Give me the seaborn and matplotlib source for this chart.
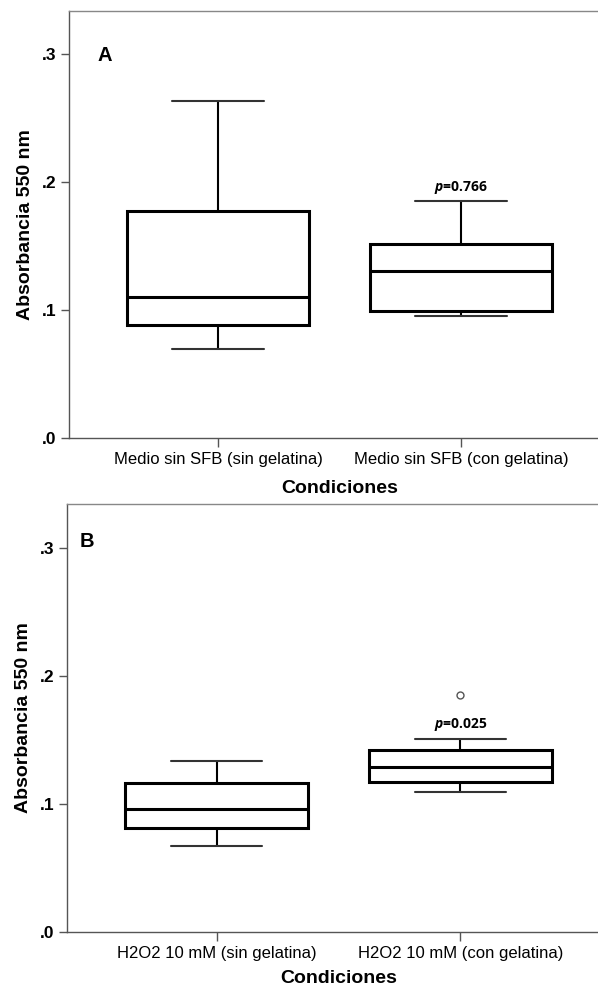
import matplotlib
matplotlib.use("Agg")
import matplotlib.pyplot as plt
import pandas as pd
import seaborn as sns
from matplotlib.cbook import boxplot_stats

# Absorbance readings (550 nm) per condition
cond_a = ["Medio sin SFB (sin gelatina)", "Medio sin SFB (con gelatina)"]
abs_a_sin = [0.0698, 0.0885, 0.1107, 0.1780, 0.2640]
abs_a_con = [0.0955, 0.0992, 0.1307, 0.1520, 0.1854]

cond_b = ["H2O2 10 mM (sin gelatina)", "H2O2 10 mM (con gelatina)"]
abs_b_sin = [0.0670, 0.0808, 0.0956, 0.1159, 0.1334]
abs_b_con = [0.1094, 0.1130, 0.1167, 0.1230, 0.1284, 0.1350, 0.1420, 0.1508, 0.1852]

p_a = "0.766"
p_b = "0.025"
panel_a = "A"
panel_b = "B"

y_ticks = [0.0, 0.1, 0.2, 0.3]
y_tick_labels = [".0", ".1", ".2", ".3"]
x_title = "Condiciones"
y_title = "Absorbancia 550 nm"

sns.set_style("ticks")
plt.rcParams["font.family"] = ["Liberation Sans", "DejaVu Sans"]
plt.rcParams["text.color"] = "black"
plt.rcParams["axes.labelcolor"] = "black"
plt.rcParams["xtick.labelcolor"] = "black"
plt.rcParams["ytick.labelcolor"] = "black"
plt.rcParams["mathtext.fontset"] = "custom"
plt.rcParams["mathtext.bfit"] = "Open Sans:italic:bold"
plt.rcParams["mathtext.bf"] = "Open Sans:bold"


def make_frame(conds, groups):
    rows = []
    for c, vals in zip(conds, groups):
        rows += [{"cond": c, "abs": v} for v in vals]
    return pd.DataFrame(rows)


def draw_panel(ax, conds, groups, pval, letter, letter_xy, xpad):
    df = make_frame(conds, groups)
    sns.boxplot(
        data=df, x="cond", y="abs", order=conds, ax=ax,
        color="white", linecolor="black", linewidth=2.2, width=0.75,
        whiskerprops={"linewidth": 1.5},
        capprops={"linewidth": 1.5, "color": "#333333"},
        flierprops={"marker": "o", "markersize": 5, "markerfacecolor": "white",
                    "markeredgecolor": "#555555", "markeredgewidth": 1.0},
    )
    ax.set_xlim(-0.613, 1.613)
    ax.set_ylim(0, 0.334)
    ax.set_yticks(y_ticks)
    ax.set_yticklabels(y_tick_labels, fontsize=12.5, fontweight="bold")
    ax.set_xticks(range(len(conds)))
    ax.set_xticklabels(conds, fontsize=12)
    ax.tick_params(axis="y", length=6, width=1.0, color="#555555", pad=3)
    ax.tick_params(axis="x", length=6.5, width=1.0, color="#555555", pad=3.5)
    ax.set_xlabel(x_title, fontsize=14, fontweight="bold", labelpad=xpad)
    ax.set_ylabel(y_title, fontsize=14, fontweight="bold", labelpad=6)
    for side in ["left", "bottom"]:
        ax.spines[side].set_color("#555555")
        ax.spines[side].set_linewidth(1.0)
    ax.spines["top"].set_color("#888888")
    ax.spines["top"].set_linewidth(1.0)
    ax.spines["right"].set_color("#888888")

    # significance label above the upper whisker of the second group
    top = boxplot_stats(groups[1])[0]["whishi"]
    ax.annotate(r"$\mathbfit{p}$=" + pval, xy=(1, top), xytext=(0, 10),
                textcoords="offset points", ha="center", va="center",
                fontsize=10, fontweight="bold", family="Open Sans")
    ax.text(letter_xy[0], letter_xy[1], letter, transform=ax.transAxes,
            fontsize=14.5, fontweight="bold", ha="left", va="center")


W, H = 598, 988
fig = plt.figure(figsize=(W / 100, H / 100), dpi=100)
ax_a = fig.add_axes([69 / W, (H - 438.3) / H, 541 / W, 427.3 / H])
ax_b = fig.add_axes([67 / W, (H - 931.7) / H, 543 / W, 427.4 / H])

draw_panel(ax_a, cond_a, [abs_a_sin, abs_a_con], p_a, panel_a, (0.052, 0.8956), 9)
draw_panel(ax_b, cond_b, [abs_b_sin, abs_b_con], p_b, panel_b, (0.024, 0.9125), 6.5)

fig.savefig("out.png", dpi=100)
